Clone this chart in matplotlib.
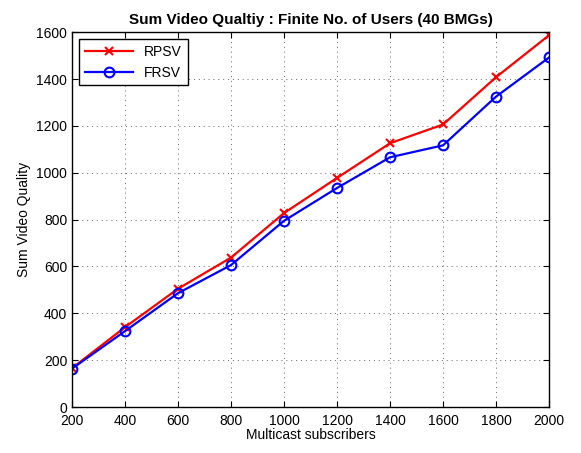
import matplotlib
matplotlib.use('Agg')
import matplotlib.pyplot as plt

plt.rcParams['font.family'] = ['Liberation Sans', 'DejaVu Sans']

# Data
subscribers = [200, 400, 600, 800, 1000, 1200, 1400, 1600, 1800, 2000]
rpsv = [166, 341, 505, 638, 828, 978, 1126, 1206, 1408, 1587]
frsv = [164, 324, 486, 606, 795, 935, 1066, 1117, 1325, 1492]

fig = plt.figure(figsize=(5.81, 4.53), dpi=100)
ax = fig.add_axes([0.124, 0.1015, 0.821, 0.8275])

ax.plot(subscribers, rpsv, 'r-', marker='x', markersize=6, markeredgewidth=1.5,
        linewidth=1.6, label='RPSV')
ax.plot(subscribers, frsv, 'b-', marker='o', markersize=7, markerfacecolor='none',
        markeredgewidth=1.5, linewidth=1.6, label='FRSV')

ax.set_xlim(200, 2000)
ax.set_ylim(0, 1600)
ax.set_xticks(subscribers)
ax.set_yticks(range(0, 1601, 200))
ax.grid(True, linestyle=(0, (1, 4)), color='#666666', linewidth=0.7)
ax.tick_params(direction='in', top=True, right=True, labelsize=10, length=4)
ax.tick_params(axis='x', pad=5)
for s in ax.spines.values():
    s.set_linewidth(1.0)

ax.set_xlabel('Multicast subscribers', fontsize=10, labelpad=0)
ax.set_ylabel('Sum Video Quality', fontsize=10)
ax.set_title('Sum Video Qualtiy : Finite No. of Users (40 BMGs)', fontsize=11,
             fontweight='bold', pad=6)

leg = ax.legend(loc='upper left', fontsize=10, fancybox=False, framealpha=1,
                edgecolor='black', handlelength=3.5, borderaxespad=0.5)
leg.get_frame().set_linewidth(1.0)

fig.savefig('out.png', dpi=100)
